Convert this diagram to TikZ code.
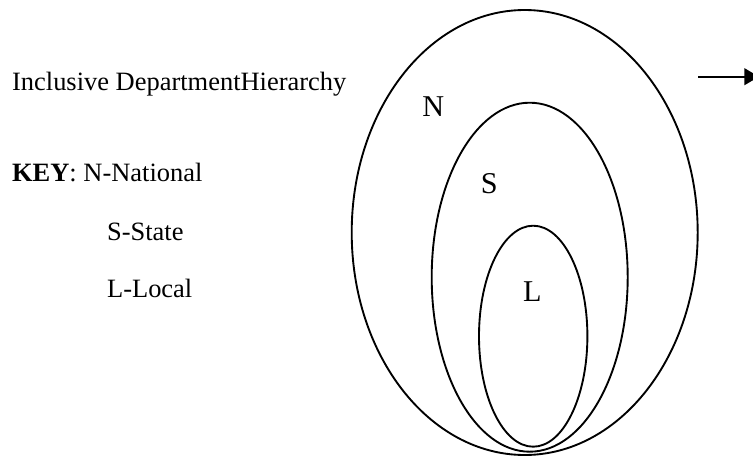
\documentclass[tikz,border=0pt]{standalone}
\usepackage{fontspec}
\setmainfont{Liberation Serif}
\usetikzlibrary{arrows.meta}
\tikzset{
  keytext/.style={anchor=base west, inner sep=0pt, font=\fontsize{12.7}{15}\selectfont},
  setlabel/.style={inner sep=0pt, font=\fontsize{14.5}{17}\selectfont},
  setline/.style={line width=0.9pt}
}
\begin{document}
\begin{tikzpicture}[x=0.48pt, y=-0.48pt]
    \useasboundingbox (0,0) rectangle (753,457);
    % nested sets
    \draw[setline] (524.7,232.5) ellipse [x radius=173, y radius=222.5];
    \draw[setline] (529.7,277.2) ellipse [x radius=98, y radius=174.5];
    \draw[setline] (533.2,336.2) ellipse [x radius=54.2, y radius=110.5];
    \node[setlabel] (nat) at (433.3,106.7) {N};
    \node[setlabel] (sta) at (489.3,184) {S};
    \node[setlabel] (loc) at (532.3,291.7) {L};
    % key
    \node[keytext] (title) at (11.7,90) {Inclusive DepartmentHierarchy};
    \node[keytext] (keyn) at (11.7,181.7) {\textbf{KEY}: N-National};
    \node[keytext] (keys) at (106.7,240.7) {S-State};
    \node[keytext] (keyl) at (106.7,297.3) {L-Local};
    % arrow
    \coordinate (from) at (698,76.7);
    \coordinate (to) at (759,76.7);
    \draw[setline, -{Triangle[length=7pt, width=8pt]}] (from) -- (to);
\end{tikzpicture}
\end{document}
